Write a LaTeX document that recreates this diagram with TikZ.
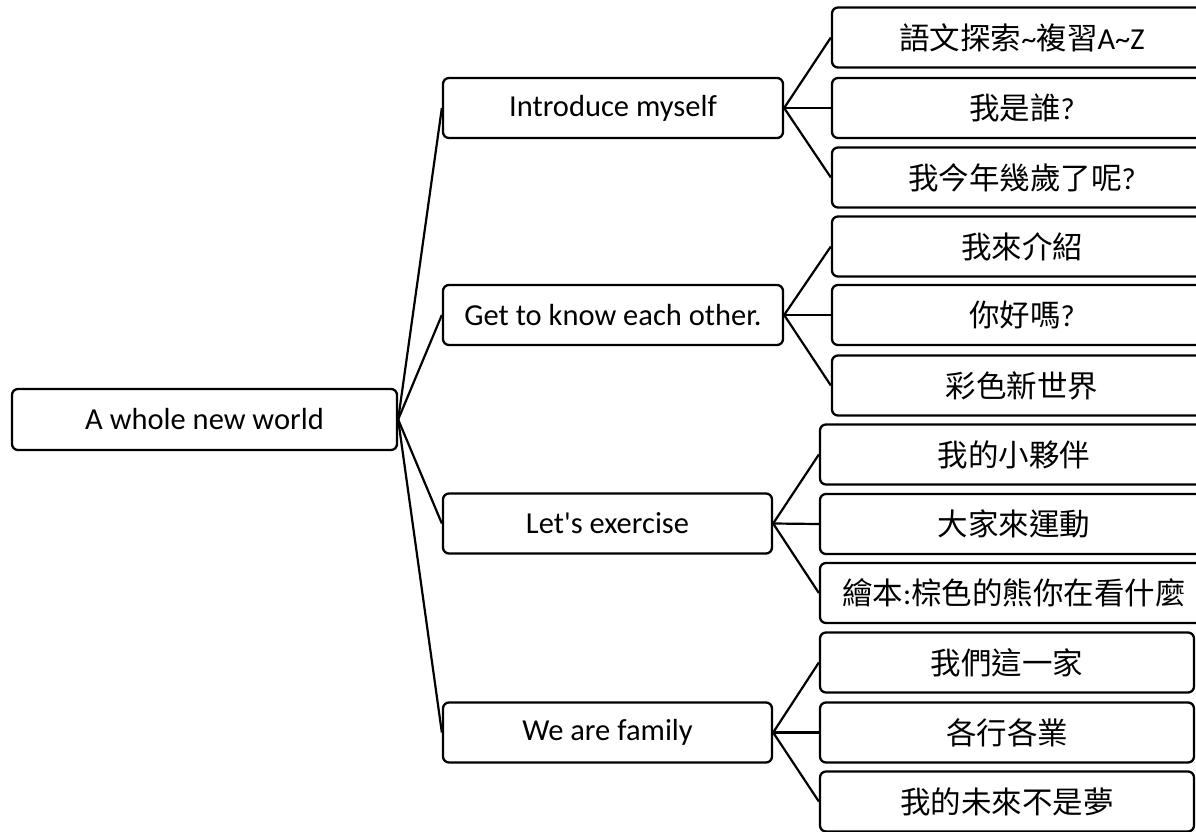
\documentclass[tikz,border=0pt]{standalone}
\usepackage{fontspec}
\setmainfont{Carlito}
\newfontfamily\cjk{Noto Sans CJK TC}
\begin{document}
\begin{tikzpicture}[x=1pt,y=-1pt,
  box/.style={draw, line width=2.3pt, rounded corners=6pt, minimum height=60pt, inner sep=0pt, align=center, font=\fontsize{30.5}{36}\selectfont},
  link/.style={line width=2.2pt},
  cj/.style={text=black!80}]
\useasboundingbox (0,0) rectangle (1196,832);
\clip (0,0) rectangle (1196,832);
% root
\node[box, minimum width=385pt, minimum height=61pt] (root) at (204.5,419.5) {A whole new world};
% level 1
\node[box, minimum width=340pt] (a) at (613,108) {Introduce myself};
\node[box, minimum width=340pt] (b) at (613,315) {Get to know each other.};
\node[box, minimum width=329pt] (c) at (607.5,523.5) {Let\textquotesingle s exercise};
\node[box, minimum width=329pt] (d) at (607.5,732.5) {We are family};
% level 2, group 1
\node[box, minimum width=380pt] (a1) at (1022,37.5) {{\cjk 語文探索}\textasciitilde{\cjk 複習}A\textasciitilde Z};
\node[box, minimum width=380pt] (a2) at (1022,108) {{\cjk 我是誰}?};
\node[box, minimum width=380pt] (a3) at (1022,177.5) {{\cjk 我今年幾歲了呢}?};
% group 2
\node[box, minimum width=380pt] (b1) at (1022,246.5) {\cjk 我來介紹};
\node[box, minimum width=380pt] (b2) at (1022,315) {{\cjk 你好嗎}?};
\node[box, minimum width=380pt] (b3) at (1022,385.5) {\cjk 彩色新世界};
% group 3
\node[box, minimum width=388pt] (c1) at (1014,454.5) {\cjk 我的小夥伴};
\node[box, minimum width=388pt] (c2) at (1014,524) {\cjk 大家來運動};
\node[box, minimum width=388pt] (c3) at (1014,593) {{\cjk 繪本}:{\cjk 棕色的熊你在看什麼}};
% group 4
\node[box, minimum width=374pt] (d1) at (1007,662.5) {\cjk 我們這一家};
\node[box, minimum width=374pt] (d2) at (1007,732.5) {\cjk 各行各業};
\node[box, minimum width=374pt] (d3) at (1007,801.5) {\cjk 我的未來不是夢};
% connectors
\foreach \n in {a,b,c,d} {\draw[link] (root.east) -- (\n.west);}
\foreach \p in {a,b,c,d} {
  \foreach \k in {1,2,3} {\draw[link] (\p.east) -- (\p\k.west);}
}
\end{tikzpicture}
\end{document}
